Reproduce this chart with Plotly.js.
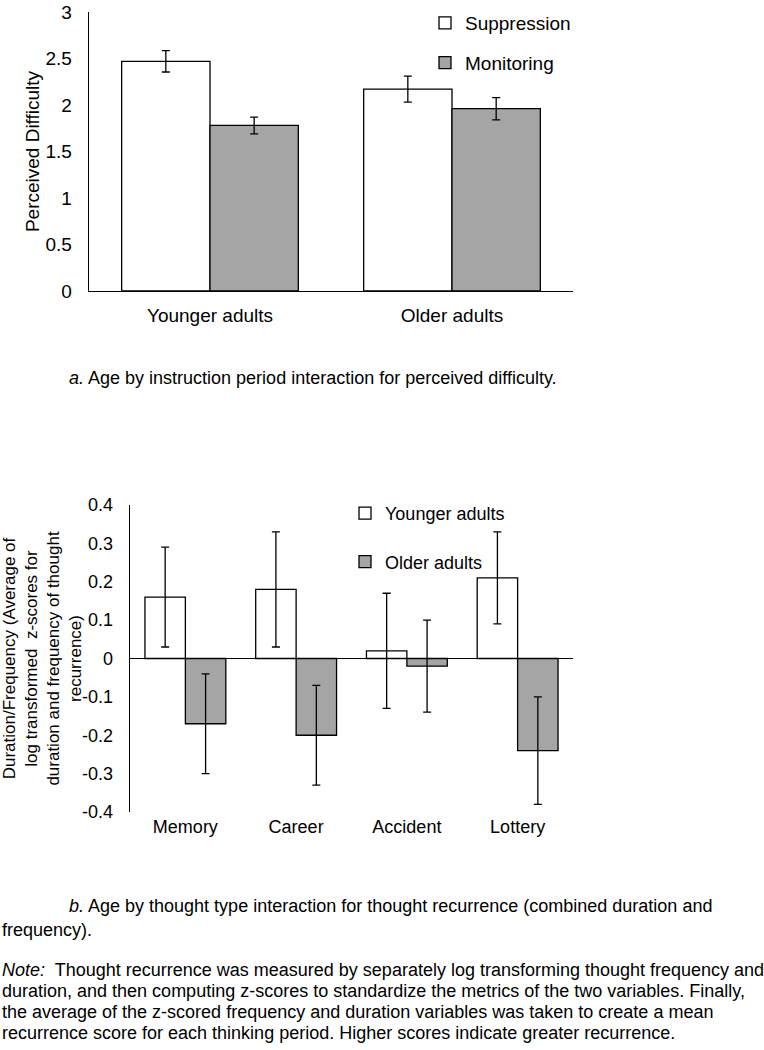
<!DOCTYPE html>
<html>
<head>
<meta charset="utf-8">
<script src="https://cdn.plot.ly/plotly-3.0.1.min.js"></script>
<style>
  html, body { margin: 0; padding: 0; background: #fff; }
  #chart { width: 764px; height: 1050px; }
</style>
</head>
<body>
<div id="chart"></div>
<script>
// ---- Panel a: perceived difficulty ----
const ageGroups = ['Younger adults', 'Older adults'];
const suppression = [2.47, 2.17];
const suppressionErr = [0.115, 0.14];
const monitoring = [1.78, 1.96];
const monitoringErr = [0.09, 0.12];

// ---- Panel b: thought recurrence ----
const thoughtTypes = ['Memory', 'Career', 'Accident', 'Lottery'];
const younger = [0.16, 0.18, 0.02, 0.21];
const youngerErr = [0.13, 0.15, 0.15, 0.12];
const older = [-0.17, -0.20, -0.02, -0.24];
const olderErr = [0.13, 0.13, 0.12, 0.14];

const yTickVals2 = [-0.4, -0.3, -0.2, -0.1, 0, 0.1, 0.2, 0.3, 0.4];
const yTickText2 = ['-0.4', '-0.3', '-0.2', '-0.1', '0', '0.1', '0.2', '0.3', '0.4'];

const FONT = 'Liberation Sans, Arial, sans-serif';
const GRAY = '#a5a5a5';
const W = 764, H = 1050;
const px = v => v / W;
const py = v => 1 - v / H;

function bar(name, x, y, err, fill, xa, ya, legend, group) {
  return {
    type: 'bar', name: name, x: x, y: y,
    xaxis: xa, yaxis: ya, legend: legend, legendgroup: group,
    marker: { color: fill, line: { color: '#000', width: 1.3 } },
    error_y: { type: 'data', array: err, visible: true, color: '#000', thickness: 1.3, width: 4 },
    hoverinfo: 'x+y'
  };
}

const data = [
  bar('Suppression', ageGroups, suppression, suppressionErr, '#ffffff', 'x', 'y', 'legend', 'a1'),
  bar('Monitoring', ageGroups, monitoring, monitoringErr, GRAY, 'x', 'y', 'legend', 'a2'),
  bar('Younger adults', thoughtTypes, younger, youngerErr, '#ffffff', 'x2', 'y2', 'legend2', 'b1'),
  bar('Older adults', thoughtTypes, older, olderErr, GRAY, 'x2', 'y2', 'legend2', 'b2')
];

const captionFont = { size: 18 };
function caption(text, x, y) {
  return { text: text, x: px(x), y: py(y), xref: 'paper', yref: 'paper',
           xanchor: 'left', yanchor: 'middle', showarrow: false, font: captionFont };
}

const layout = {
  width: W, height: H,
  margin: { l: 0, r: 0, t: 0, b: 0 },
  paper_bgcolor: '#fff', plot_bgcolor: 'rgba(0,0,0,0)',
  font: { family: FONT, color: '#000', size: 19 },
  barmode: 'group', bargap: 0.27, bargroupgap: 0,
  showlegend: true,
  xaxis: {
    domain: [px(89), px(573)], anchor: 'y',
    showline: true, linecolor: '#000', linewidth: 1.3,
    ticks: '', showgrid: false, zeroline: false,
    tickfont: { size: 19 }, ticklabelstandoff: 7, fixedrange: true
  },
  yaxis: {
    domain: [py(291), py(12)], anchor: 'x',
    range: [0, 3], dtick: 0.5,
    showline: true, linecolor: '#000', linewidth: 1.3,
    ticks: '', showgrid: false, zeroline: false,
    tickfont: { size: 19 }, ticklabelstandoff: 12, ticklabeloverflow: 'allow',
    title: { text: 'Perceived Difficulty', font: { size: 19 }, standoff: 0 },
    fixedrange: true
  },
  xaxis2: {
    domain: [px(130), px(573)], anchor: 'y2',
    showline: false, ticks: '', showgrid: false, zeroline: false,
    tickfont: { size: 18 }, ticklabelstandoff: 2, fixedrange: true
  },
  yaxis2: {
    domain: [py(812), py(505)], anchor: 'x2',
    range: [-0.4, 0.4], tickvals: yTickVals2, ticktext: yTickText2,
    showline: true, linecolor: '#000', linewidth: 1.3,
    ticks: '', showgrid: false,
    zeroline: true, zerolinecolor: '#000', zerolinewidth: 1.3,
    tickfont: { size: 18 }, ticklabelstandoff: 12,
    title: {
      text: 'Duration/Frequency (Average of<br>log transformed  z-scores for<br>duration and frequency of thought<br>recurrence)',
      font: { size: 17 }, standoff: 8
    },
    fixedrange: true
  },
  legend: {
    x: px(425), xanchor: 'left', y: py(4), yanchor: 'top',
    font: { size: 19 }, tracegroupgap: 12, traceorder: 'grouped',
    bgcolor: 'rgba(0,0,0,0)', borderwidth: 0
  },
  legend2: {
    x: px(345), xanchor: 'left', y: py(495), yanchor: 'top',
    font: { size: 18 }, tracegroupgap: 22, traceorder: 'grouped',
    bgcolor: 'rgba(0,0,0,0)', borderwidth: 0
  },
  annotations: [
    caption('<i>a.</i> Age by instruction period interaction for perceived difficulty.', 67, 378),
    caption('<i>b.</i> Age by thought type interaction for thought recurrence (combined duration and', 67, 906),
    caption('frequency).', 0, 930),
    caption('<i>Note:</i>  Thought recurrence was measured by separately log transforming thought frequency and', 0, 970),
    caption('duration, and then computing z-scores to standardize the metrics of the two variables. Finally,', 0, 991),
    caption('the average of the z-scored frequency and duration variables was taken to create a mean', 0, 1012),
    caption('recurrence score for each thinking period. Higher scores indicate greater recurrence.', 0, 1033)
  ]
};

Plotly.newPlot('chart', data, layout, { displayModeBar: false, staticPlot: true });
</script>
</body>
</html>
